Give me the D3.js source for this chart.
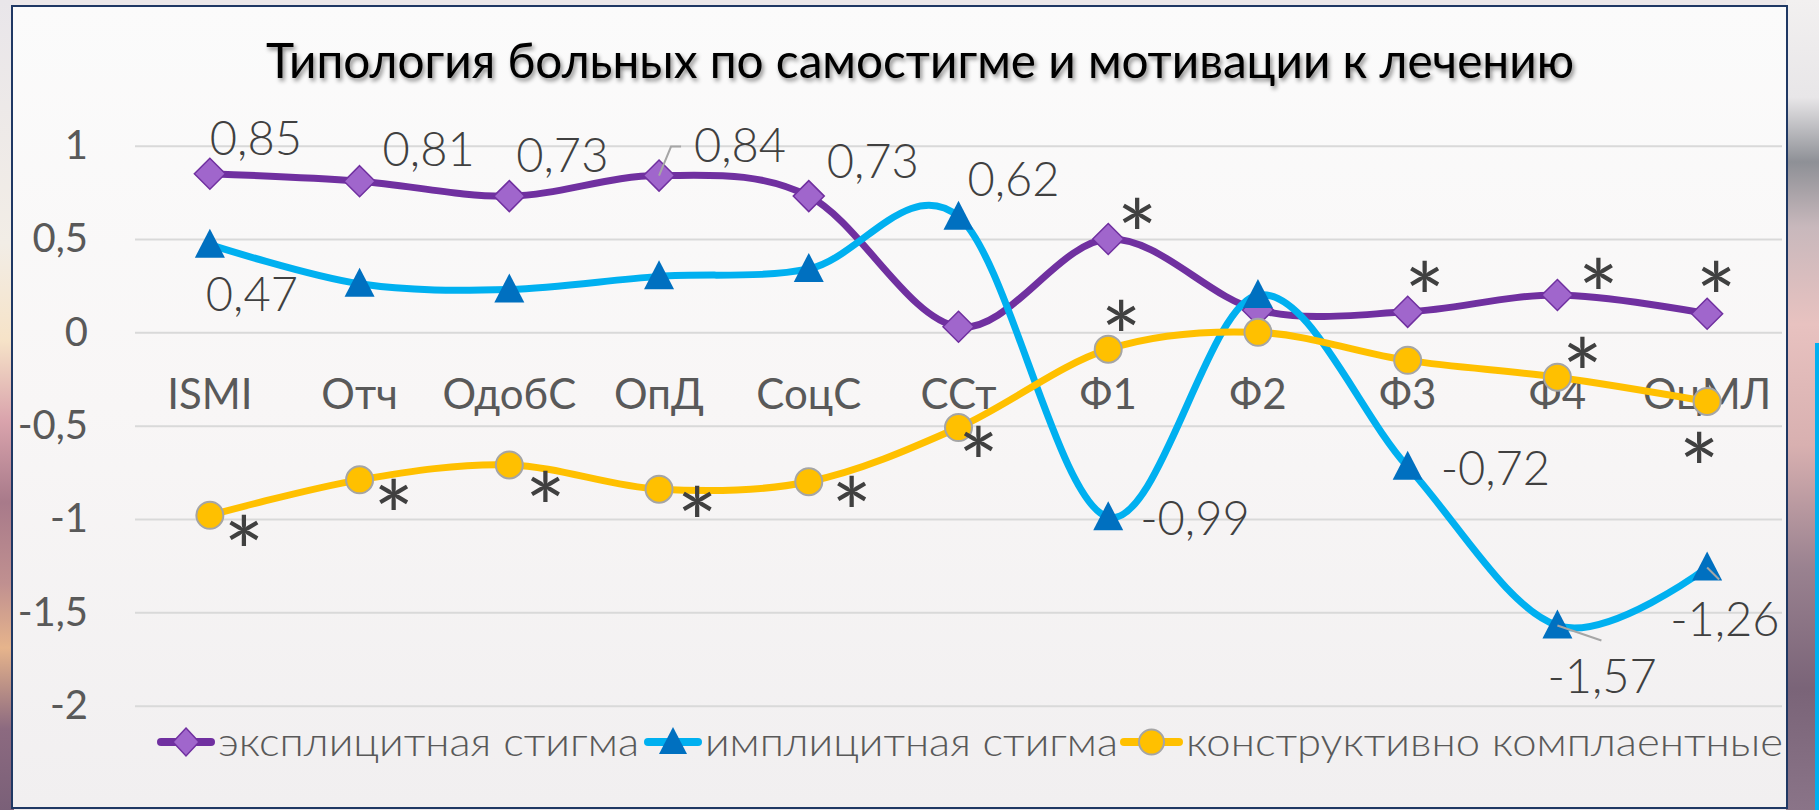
<!DOCTYPE html>
<html>
<head>
<meta charset="utf-8">
<script src="https://cdn.jsdelivr.net/npm/d3@7"></script>
<style>
  body { margin: 0; background: #eeeaec; }
  text { font-family: Lato, "Open Sans", sans-serif; }
</style>
</head>
<body>
<div id="chart"></div>
<script>
// data
var categories = ["ISMI", "Отч", "ОдобС", "ОпД", "СоцС", "ССт", "Ф1", "Ф2", "Ф3", "Ф4", "ОцМЛ"];
var explicitStigma = [0.85, 0.81, 0.73, 0.84, 0.73, 0.03, 0.50, 0.12, 0.11, 0.20, 0.10];
var implicitStigma = [0.47, 0.26, 0.23, 0.30, 0.34, 0.62, -0.99, 0.20, -0.72, -1.57, -1.26];
var compliant = [-0.98, -0.79, -0.71, -0.84, -0.80, -0.51, -0.09, 0.00, -0.15, -0.24, -0.37];
var seriesNames = ["эксплицитная стигма", "имплицитная стигма", "конструктивно комплаентные"];
var yTicks = [1, 0.5, 0, -0.5, -1, -1.5, -2];
var title = "Типология больных по самостигме и мотивации к лечению";

// which points carry a value label and which a "*" mark
var explicitShowValue = [1, 1, 1, 1, 1, 0, 0, 0, 0, 0, 0];
var implicitShowValue = [1, 0, 0, 0, 0, 1, 1, 0, 1, 1, 1];
var explicitStar = [0, 0, 0, 0, 0, 0, 1, 0, 1, 1, 1];
var compliantStar = [1, 1, 1, 1, 1, 1, 1, 0, 0, 1, 1];

// label placement (offsets from the point, px)
var explicitValuePos = [[0, -19], [23, -15], [7, -24], [35, -14], [18, -18]];
var implicitValuePos = { 0: [-4, 66], 5: [9, -21], 6: [32, 18], 8: [33, 18], 9: [-10, 68], 10: [-37, 68] };
var explicitStarPos = { 6: [29, -25], 8: [17, -34], 9: [41, -21], 10: [9, -36] };
var compliantStarPos = { 0: [34, 16], 1: [34, 16], 2: [36, 22], 3: [38, 13], 4: [43, 11], 5: [20, 15], 6: [13, -33], 9: [25, -24], 10: [-8, 47] };

var width = 1819, height = 810;
var plot = { left: 135, right: 1782, top: 145.7, bottom: 705.7 };

var svg = d3.select("#chart").append("svg")
    .attr("width", width)
    .attr("height", height);

var defs = svg.append("defs");

var leftGrad = defs.append("linearGradient").attr("id", "leftBg").attr("x1", 0).attr("y1", 0).attr("x2", 0).attr("y2", 1);
[[0, "#e9e6ea"], [0.3, "#f2ede6"], [0.42, "#f6e3c8"], [0.52, "#d9a3ac"], [0.62, "#a87a8a"], [0.72, "#c09090"], [0.8, "#e6b48c"], [0.9, "#8c6a80"], [1, "#7a6078"]]
    .forEach(function (s) { leftGrad.append("stop").attr("offset", s[0]).attr("stop-color", s[1]); });

var rightGrad = defs.append("linearGradient").attr("id", "rightBg").attr("x1", 0).attr("y1", 0).attr("x2", 0).attr("y2", 1);
[[0, "#f2f0f0"], [0.12, "#e8e6e8"], [0.2, "#8e9096"], [0.28, "#c8b8bc"], [0.4, "#e8c2c0"], [0.55, "#d8b0b0"], [0.7, "#9a8290"], [0.85, "#7a6478"], [1, "#8a7488"]]
    .forEach(function (s) { rightGrad.append("stop").attr("offset", s[0]).attr("stop-color", s[1]); });

var areaGrad = defs.append("linearGradient").attr("id", "areaBg").attr("x1", 0).attr("y1", 0).attr("x2", 0).attr("y2", 1);
[[0, "#fbfbfb"], [0.5, "#f8f6f6"], [1, "#f1eff0"]]
    .forEach(function (s) { areaGrad.append("stop").attr("offset", s[0]).attr("stop-color", s[1]); });

var shadow = defs.append("filter").attr("id", "shadow").attr("x", "-5%").attr("y", "-30%").attr("width", "110%").attr("height", "160%");
shadow.append("feDropShadow").attr("dx", 2).attr("dy", 3).attr("stdDeviation", 2).attr("flood-color", "#000").attr("flood-opacity", 0.45);

// background photo strips around the frame
svg.append("rect").attr("x", 0).attr("y", 0).attr("width", width).attr("height", height).attr("fill", "#ece8ea");
svg.append("rect").attr("x", 0).attr("y", 0).attr("width", 14).attr("height", height).attr("fill", "url(#leftBg)");
svg.append("rect").attr("x", 1786).attr("y", 0).attr("width", 33).attr("height", height).attr("fill", "url(#rightBg)");
svg.append("rect").attr("x", 1815).attr("y", 343).attr("width", 4).attr("height", 467).attr("fill", "#00b0f0");

// chart area with frame
svg.append("rect")
    .attr("x", 12).attr("y", 6)
    .attr("width", 1775).attr("height", 802)
    .attr("fill", "url(#areaBg)")
    .attr("stroke", "#1f3864")
    .attr("stroke-width", 2);

// title
svg.append("text")
    .attr("x", 266).attr("y", 78)
    .attr("textLength", 1308)
    .attr("lengthAdjust", "spacingAndGlyphs")
    .attr("font-size", 49)
    .attr("fill", "#000")
    .attr("filter", "url(#shadow)")
    .text(title);

var x = d3.scaleBand().domain(categories).range([plot.left, plot.right]);
var y = d3.scaleLinear().domain([-2, 1]).range([plot.bottom, plot.top]);
var cx = function (i) { return x(categories[i]) + x.bandwidth() / 2; };
var fmt = function (v) { return v.toFixed(2).replace(".", ","); };

// y axis with gridlines
var yAxis = svg.append("g")
    .attr("transform", "translate(" + plot.left + ",0)")
    .call(d3.axisLeft(y)
        .tickValues(yTicks)
        .tickSize(-(plot.right - plot.left))
        .tickPadding(47)
        .tickFormat(function (d) { return String(d).replace(".", ","); }));
yAxis.select(".domain").remove();
yAxis.selectAll(".tick line").attr("stroke", "#d9d9d9").attr("stroke-width", 2);
yAxis.selectAll(".tick text")
    .attr("font-size", 40)
    .attr("fill", "#595959")
    .style("font-family", "Lato, sans-serif");

// category labels
var xAxis = svg.append("g")
    .attr("transform", "translate(0,409)")
    .call(d3.axisBottom(x).tickSize(0).tickPadding(0));
xAxis.select(".domain").remove();
xAxis.selectAll(".tick text")
    .attr("y", 0).attr("dy", null)
    .attr("font-size", 42)
    .attr("fill", "#595959")
    .style("font-family", "Lato, sans-serif");

var line = d3.line()
    .x(function (d, i) { return cx(i); })
    .y(function (d) { return y(d); })
    .curve(d3.curveCatmullRom.alpha(0));

var diamond = "M0,-15.5L15.5,0L0,15.5L-15.5,0Z";
var triangle = "M0,-16L15,13L-15,13Z";

// series 1: explicit stigma
svg.append("path").datum(explicitStigma)
    .attr("d", line).attr("fill", "none")
    .attr("stroke", "#7030a0").attr("stroke-width", 7).attr("stroke-linejoin", "round");
svg.append("g").selectAll("path").data(explicitStigma).enter().append("path")
    .attr("d", diamond)
    .attr("transform", function (d, i) { return "translate(" + cx(i) + "," + y(d) + ")"; })
    .attr("fill", "#a066cc").attr("stroke", "#7030a0").attr("stroke-width", 1.5);

// series 2: implicit stigma
svg.append("path").datum(implicitStigma)
    .attr("d", line).attr("fill", "none")
    .attr("stroke", "#00b0f0").attr("stroke-width", 7).attr("stroke-linejoin", "round");
svg.append("g").selectAll("path").data(implicitStigma).enter().append("path")
    .attr("d", triangle)
    .attr("transform", function (d, i) { return "translate(" + cx(i) + "," + y(d) + ")"; })
    .attr("fill", "#0070c0");

// series 3: constructive compliant
svg.append("path").datum(compliant)
    .attr("d", line).attr("fill", "none")
    .attr("stroke", "#ffc000").attr("stroke-width", 7).attr("stroke-linejoin", "round");
svg.append("g").selectAll("circle").data(compliant).enter().append("circle")
    .attr("cx", function (d, i) { return cx(i); })
    .attr("cy", function (d) { return y(d); })
    .attr("r", 13.5)
    .attr("fill", "#ffc000").attr("stroke", "#a5a5a5").attr("stroke-width", 2);

// leader lines for moved labels
var leaders = svg.append("g").attr("stroke", "#a6a6a6").attr("stroke-width", 2).attr("fill", "none");
leaders.append("path").attr("d", "M" + cx(3) + "," + y(explicitStigma[3]) + "l12,-29h10");
leaders.append("path").attr("d", "M" + cx(9) + "," + y(implicitStigma[9]) + "l44,15");
leaders.append("path").attr("d", "M" + cx(10) + "," + y(implicitStigma[10]) + "l12,12");

// value labels
var labels = svg.append("g").attr("font-size", 47).attr("font-weight", 300).attr("fill", "#404040");
explicitStigma.forEach(function (v, i) {
    if (!explicitShowValue[i]) return;
    var p = explicitValuePos[i];
    labels.append("text").attr("x", cx(i) + p[0]).attr("y", y(v) + p[1]).text(fmt(v));
});
implicitStigma.forEach(function (v, i) {
    if (!implicitShowValue[i]) return;
    var p = implicitValuePos[i];
    labels.append("text").attr("x", cx(i) + p[0]).attr("y", y(v) + p[1]).text(fmt(v));
});

// significance marks
var starSize = 96;
var stars = svg.append("g").attr("font-size", starSize).attr("fill", "#404040").attr("text-anchor", "middle");
explicitStigma.forEach(function (v, i) {
    if (!explicitStar[i]) return;
    var p = explicitStarPos[i];
    stars.append("text").attr("x", cx(i) + p[0]).attr("y", y(v) + p[1] + starSize * 0.59).text("*");
});
compliant.forEach(function (v, i) {
    if (!compliantStar[i]) return;
    var p = compliantStarPos[i];
    stars.append("text").attr("x", cx(i) + p[0]).attr("y", y(v) + p[1] + starSize * 0.59).text("*");
});

// legend
var legendItems = [
    { name: seriesNames[0], color: "#7030a0", x0: 158, tx: 218, tw: 421, mark: "diamond" },
    { name: seriesNames[1], color: "#00b0f0", x0: 645, tx: 705, tw: 413, mark: "triangle" },
    { name: seriesNames[2], color: "#ffc000", x0: 1121, tx: 1186, tw: 597, mark: "circle" }
];
var legend = svg.append("g").attr("transform", "translate(0,742)");
legendItems.forEach(function (d) {
    var w = d.tx - d.x0 - 4;
    legend.append("line")
        .attr("x1", d.x0 + 3).attr("x2", d.x0 + w - 3)
        .attr("stroke", d.color).attr("stroke-width", 8).attr("stroke-linecap", "round");
    var mx = d.x0 + w / 2;
    if (d.mark === "diamond") {
        legend.append("path").attr("d", "M0,-14L13,0L0,14L-13,0Z")
            .attr("transform", "translate(" + mx + ",0)")
            .attr("fill", "#a066cc").attr("stroke", "#7030a0").attr("stroke-width", 1.5);
    } else if (d.mark === "triangle") {
        legend.append("path").attr("d", "M0,-15L14,12L-14,12Z")
            .attr("transform", "translate(" + mx + ",0)")
            .attr("fill", "#0070c0");
    } else {
        legend.append("circle").attr("cx", mx).attr("r", 12.5)
            .attr("fill", "#ffc000").attr("stroke", "#a5a5a5").attr("stroke-width", 2);
    }
    legend.append("text")
        .attr("x", d.tx).attr("y", 14)
        .attr("font-size", 40)
        .attr("font-weight", 300)
        .attr("fill", "#595959")
        .attr("textLength", d.tw)
        .attr("lengthAdjust", "spacingAndGlyphs")
        .text(d.name);
});
</script>
</body>
</html>
